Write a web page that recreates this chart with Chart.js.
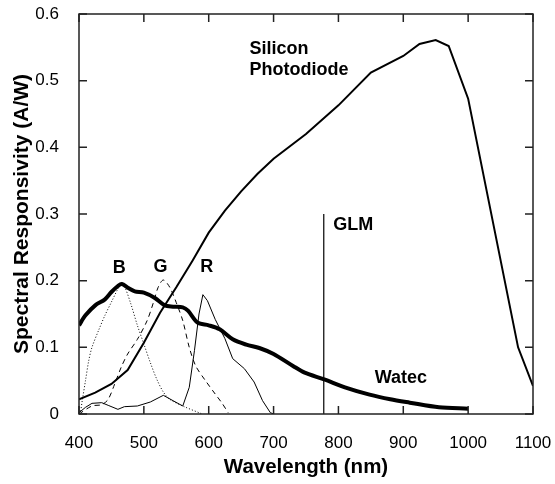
<!DOCTYPE html>
<html>
<head>
<meta charset="utf-8">
<script src="https://cdn.jsdelivr.net/npm/chart.js@4/dist/chart.umd.min.js"></script>
<style>
  html, body { margin: 0; padding: 0; background: #fff; }
</style>
</head>
<body>
<canvas id="respChart" width="555" height="484"></canvas>
<script>
// ===== DATA =====
const siliconNm   = [400, 425, 450, 475, 500, 525, 550, 575, 600, 625, 650, 675, 700, 750, 800, 850, 900, 925, 950, 970, 1000, 1077, 1100];
const siliconResp = [0.022, 0.032, 0.045, 0.066, 0.107, 0.152, 0.19, 0.23, 0.272, 0.305, 0.334, 0.36, 0.383, 0.42, 0.463, 0.512, 0.537, 0.555, 0.561, 0.552, 0.473, 0.1, 0.042];

const watecNm   = [400, 410, 425, 440, 450, 460, 466, 476, 486, 500, 517, 532, 545, 560, 568, 583, 600, 617, 637, 658, 678, 700, 730, 748, 778, 810, 848, 880, 910, 955, 1000];
const watecResp = [0.133, 0.148, 0.163, 0.172, 0.183, 0.192, 0.195, 0.189, 0.184, 0.182, 0.174, 0.163, 0.161, 0.16, 0.155, 0.137, 0.133, 0.127, 0.112, 0.104, 0.099, 0.09, 0.072, 0.062, 0.052, 0.04, 0.029, 0.022, 0.017, 0.01, 0.008];

const blueNm   = [402, 405, 410, 415, 420, 430, 440, 450, 460, 465, 470, 480, 490, 500, 510, 520, 530, 540, 560, 590];
const blueResp = [0, 0.02, 0.05, 0.08, 0.1, 0.125, 0.148, 0.168, 0.188, 0.197, 0.192, 0.165, 0.133, 0.105, 0.077, 0.052, 0.033, 0.022, 0.012, 0];

const greenNm   = [400, 420, 435, 445, 455, 465, 475, 490, 505, 515, 522, 530, 540, 550, 560, 570, 580, 595, 610, 620, 630];
const greenResp = [0, 0.012, 0.014, 0.022, 0.045, 0.07, 0.09, 0.112, 0.14, 0.168, 0.19, 0.201, 0.19, 0.167, 0.14, 0.1, 0.072, 0.05, 0.03, 0.017, 0.002];

const redNm   = [400, 410, 420, 435, 445, 460, 470, 490, 510, 530, 545, 560, 570, 578, 585, 591, 598, 610, 625, 637, 655, 670, 683, 695, 700];
const redResp = [0.002, 0.01, 0.016, 0.017, 0.013, 0.007, 0.011, 0.012, 0.018, 0.028, 0.02, 0.012, 0.04, 0.095, 0.15, 0.179, 0.17, 0.142, 0.113, 0.083, 0.068, 0.048, 0.02, 0.002, 0];

const glmNm   = [777.4, 777.4];
const glmResp = [0, 0.3];

const xTicks = [400, 500, 600, 700, 800, 900, 1000, 1100];
const yTicks = [0, 0.1, 0.2, 0.3, 0.4, 0.5, 0.6];

// curve labels, anchored in data units (left / baseline)
const curveLabels = ["B", "G", "R", "Silicon", "Photodiode", "GLM", "Watec"];
const labelNm     = [452, 515, 587, 663, 663, 792, 856];
const labelResp   = [0.212, 0.213, 0.213, 0.54, 0.508, 0.276, 0.046];

const FONT = "'Liberation Sans', Arial, sans-serif";

function pts(xs, ys) {
  return xs.map((x, i) => ({ x, y: ys[i] }));
}

function series(label, xs, ys, width, dash, tension) {
  return {
    label,
    data: pts(xs, ys),
    borderColor: "#000",
    backgroundColor: "transparent",
    borderWidth: width,
    borderDash: dash,
    tension,
    pointRadius: 0,
    fill: false
  };
}

// scale boxes are fixed so the plot area sits where the original one does
function fixBox(s, size) {
  if (s.isHorizontal()) s.height = size; else s.width = size;
  s.paddingTop = 0; s.paddingBottom = 0;
  s.paddingLeft = 0; s.paddingRight = 0;
}

// ===== FRAME, INWARD TICKS AND CURVE LABELS =====
const framePlugin = {
  id: "frame",
  afterDraw(chart) {
    const { ctx, chartArea: a, scales: { x, y } } = chart;
    const tl = 8;
    ctx.save();
    ctx.strokeStyle = "#222";
    ctx.lineWidth = 1.5;
    ctx.strokeRect(a.left, a.top, a.right - a.left, a.bottom - a.top);
    ctx.beginPath();
    xTicks.forEach(v => {
      const px = x.getPixelForValue(v);
      ctx.moveTo(px, a.bottom); ctx.lineTo(px, a.bottom - tl);
      ctx.moveTo(px, a.top);    ctx.lineTo(px, a.top + tl);
    });
    yTicks.forEach(v => {
      const py = y.getPixelForValue(v);
      ctx.moveTo(a.left, py);  ctx.lineTo(a.left + tl, py);
      ctx.moveTo(a.right, py); ctx.lineTo(a.right - tl, py);
    });
    ctx.stroke();

    ctx.fillStyle = "#000";
    ctx.font = "bold 18px " + FONT;
    ctx.textAlign = "left";
    ctx.textBaseline = "alphabetic";
    curveLabels.forEach((t, i) => {
      ctx.fillText(t, x.getPixelForValue(labelNm[i]), y.getPixelForValue(labelResp[i]));
    });
    ctx.restore();
  }
};

// ===== CHART =====
new Chart(document.getElementById("respChart"), {
  type: "line",
  data: {
    datasets: [
      series("Silicon Photodiode", siliconNm, siliconResp, 2, [], 0),
      series("Watec", watecNm, watecResp, 4, [], 0.3),
      series("B", blueNm, blueResp, 1, [1, 2], 0.3),
      series("G", greenNm, greenResp, 1, [5, 4], 0.3),
      series("R", redNm, redResp, 1, [], 0),
      series("GLM", glmNm, glmResp, 1.2, [], 0)
    ]
  },
  options: {
    responsive: false,
    animation: false,
    layout: { padding: { top: 14, right: 22, left: 0, bottom: 0 } },
    plugins: {
      legend: { display: false },
      tooltip: { enabled: false }
    },
    scales: {
      x: {
        type: "linear",
        min: 400,
        max: 1100,
        afterFit: s => fixBox(s, 70),
        afterBuildTicks: s => { s.ticks = xTicks.map(v => ({ value: v })); },
        grid: { display: false },
        border: { display: false },
        ticks: {
          color: "#000",
          padding: 11,
          font: { family: FONT, size: 17 },
          callback: v => String(v)
        },
        title: {
          display: true,
          text: "Wavelength (nm)",
          color: "#000",
          padding: { top: 0, bottom: 4 },
          font: { family: FONT, size: 20.5, weight: "bold" }
        }
      },
      y: {
        min: 0,
        max: 0.6,
        afterFit: s => fixBox(s, 79),
        afterBuildTicks: s => { s.ticks = yTicks.map(v => ({ value: v })); },
        grid: { display: false },
        border: { display: false },
        ticks: {
          color: "#000",
          padding: 12,
          font: { family: FONT, size: 17 },
          callback: v => String(Math.round(v * 10) / 10)
        },
        title: {
          display: true,
          text: "Spectral Responsivity (A/W)",
          color: "#000",
          padding: { top: 10, bottom: 0 },
          font: { family: FONT, size: 21, weight: "bold" }
        }
      }
    }
  },
  plugins: [framePlugin]
});
</script>
</body>
</html>
